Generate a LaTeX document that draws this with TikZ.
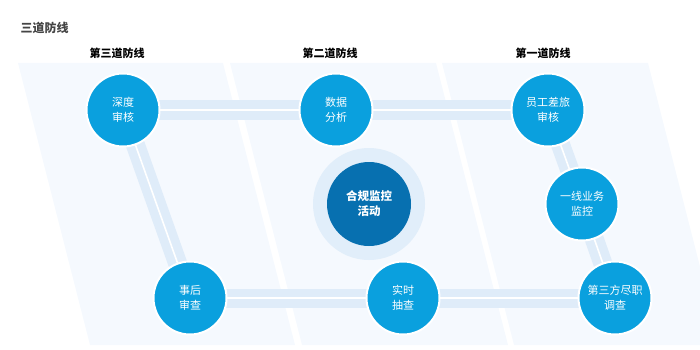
\documentclass[tikz,border=0pt]{standalone}
\usepackage{fontspec}
\setmainfont{Noto Sans CJK SC}
\begin{document}
\begin{tikzpicture}[x=1pt,y=-1pt,
  panel/.style={fill=panelc,draw=none},
  bandline/.style={line width=19pt,draw=bandc},
  bandgap/.style={line width=1.6pt,draw=white},
  stepnode/.style={circle,fill=circc,draw=white,line width=2pt,minimum size=73pt,inner sep=0pt,
     text=white,font=\fontsize{11pt}{15pt}\selectfont,align=center},
  header/.style={font=\bfseries\fontsize{11pt}{13pt}\selectfont,text=black},
]
\definecolor{panelc}{HTML}{F5F9FE}
\definecolor{bandc}{HTML}{DFECF9}
\definecolor{circc}{HTML}{0AA0DE}
\definecolor{darkc}{HTML}{0770B0}
\definecolor{ringc}{HTML}{E1EEFA}
\definecolor{titlec}{HTML}{444444}
\useasboundingbox (0,0) rectangle (700,350);
\begin{scope}
\clip (0,0) rectangle (700,350);
\fill[panel] (18,63) -- (223,63) -- (295,345) -- (90,345) -- cycle;
\fill[panel] (230,63) -- (436,63) -- (508,345) -- (302,345) -- cycle;
\fill[panel] (442,63) -- (648,63) -- (720,345) -- (514,345) -- cycle;
\end{scope}

\node[anchor=west,font=\bfseries\fontsize{12pt}{14pt}\selectfont,text=titlec] (title) at (17,28) {三道防线};
\node[header] (h3) at (117,53) {第三道防线};
\node[header] (h2) at (330,53) {第二道防线};
\node[header] (h1) at (543,53) {第一道防线};

\coordinate (p1) at (123,110);
\coordinate (p2) at (336,110);
\coordinate (p3) at (548,110);
\coordinate (p4) at (582,204);
\coordinate (p5) at (615,298);
\coordinate (p6) at (403,298);
\coordinate (p7) at (190,298);
\coordinate (pc) at (369,204);

\draw[bandline] (p1) -- (p2) -- (p3);
\draw[bandline] (p3) -- (p4) -- (p5);
\draw[bandline] (p5) -- (p6) -- (p7);
\draw[bandline] (p7) -- (p1);
\draw[bandgap] (p1) -- (p2) -- (p3);
\draw[bandgap] (p3) -- (p4) -- (p5);
\draw[bandgap] (p5) -- (p6) -- (p7);
\draw[bandgap] (p7) -- (p1);

\node[circle,fill=ringc,minimum size=112pt,inner sep=0pt] (ring) at (pc) {};
\node[circle,fill=darkc,minimum size=84pt,inner sep=0pt,text=white,align=center,
  font=\bfseries\fontsize{11.5pt}{15pt}\selectfont] (center) at (pc) {合规监控\\活动};

\node[stepnode] (n1) at (p1) {深度\\审核};
\node[stepnode] (n2) at (p2) {数据\\分析};
\node[stepnode] (n3) at (p3) {员工差旅\\审核};
\node[stepnode] (n4) at (p4) {一线业务\\监控};
\node[stepnode] (n5) at (p5) {第三方尽职\\调查};
\node[stepnode] (n6) at (p6) {实时\\抽查};
\node[stepnode] (n7) at (p7) {事后\\审查};
\end{tikzpicture}
\end{document}
